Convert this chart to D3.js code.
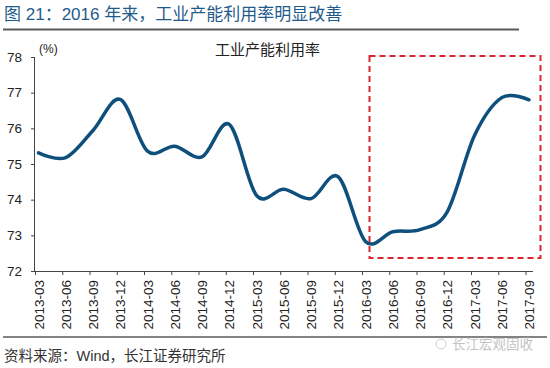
<!DOCTYPE html>
<html><head><meta charset="utf-8">
<script src="https://cdn.jsdelivr.net/npm/d3@7"></script>
<style>body{margin:0;background:#fff}svg{display:block}</style>
</head><body>
<svg id="c" width="550" height="368"></svg>
<script>
const categories = ["2013-03","2013-06","2013-09","2013-12","2014-03","2014-06","2014-09","2014-12","2015-03","2015-06","2015-09","2015-12","2016-03","2016-06","2016-09","2016-12","2017-03","2017-06","2017-09"];
const utilization = [75.31,75.18,75.94,76.81,75.36,75.5,75.2,76.11,74.12,74.29,74.03,74.64,72.83,73.1,73.16,73.66,75.8,76.86,76.8];
const yTicks = [72,73,74,75,76,77,78];
const titleText = "图 21：2016 年来，工业产能利用率明显改善";
const seriesName = "工业产能利用率";
const sourceText = "资料来源：Wind，长江证券研究所";
const highlightRange = ["2016-03","2017-09"];

const svg = d3.select("#c");
const cjk = "'Liberation Sans','Noto Sans CJK SC',Arial,sans-serif";
const lat = "'Liberation Sans',Arial,sans-serif";

const x = d3.scalePoint().domain(categories).range([38.5, 529]);
const y = d3.scaleLinear().domain([72, 78]).range([271, 57]);

// title
svg.append("text").attr("x", 4).attr("y", 20).attr("fill", "#1f5b8b")
  .style("font-family", cjk).style("font-size", "17px").text(titleText);
svg.append("line").attr("x1", 3).attr("x2", 519).attr("y1", 29.5).attr("y2", 29.5)
  .attr("stroke", "#5a5a5a").attr("stroke-width", 2);

// y axis
const yAxis = svg.append("g").attr("transform", "translate(35,0)")
  .call(d3.axisLeft(y).tickValues(yTicks).tickSize(4).tickPadding(9).tickFormat(d3.format("d")));
yAxis.select(".domain").attr("stroke", "#444").attr("d", `M-0.5,${y(78)}V${y(72)}`);
yAxis.selectAll(".tick line").attr("stroke", "#444");
yAxis.selectAll("text").style("font-family", lat).style("font-size", "13.5px").attr("fill", "#222");

// x axis
const xg = svg.append("g").attr("transform", `translate(0,${y(72)})`);
xg.append("line").attr("x1", 34.5).attr("x2", 533).attr("y1", 0.5).attr("y2", 0.5).attr("stroke", "#444");
xg.selectAll("line.tk").data(categories).enter().append("line").attr("class", "tk")
  .attr("x1", d => x(d) - 3).attr("x2", d => x(d) - 3).attr("y1", 0).attr("y2", 4).attr("stroke", "#444");
xg.selectAll("text").data(categories).enter().append("text")
  .attr("transform", d => `translate(${x(d) + 5},9) rotate(-90)`)
  .attr("text-anchor", "end")
  .style("font-family", lat).style("font-size", "13.5px").attr("fill", "#222")
  .text(d => d);

// labels
svg.append("text").attr("x", 39).attr("y", 53).style("font-family", lat)
  .style("font-size", "12px").attr("fill", "#222").text("(%)");
svg.append("text").attr("x", 267.5).attr("y", 55).attr("text-anchor", "middle")
  .style("font-family", cjk).style("font-size", "15px").attr("fill", "#222").text(seriesName);

// line
const line = d3.line().x((d, i) => x(categories[i])).y(d => y(d)).curve(d3.curveCardinal.tension(0));
svg.append("path").datum(utilization).attr("d", line).attr("fill", "none")
  .attr("stroke", "#0e4f7c").attr("stroke-width", 3.5).attr("stroke-linejoin", "round").attr("stroke-linecap", "round");

// highlight box
const bx0 = x(highlightRange[0]) + 4, bx1 = x(highlightRange[1]) + 11.5;
svg.append("rect").attr("x", bx0).attr("y", 56).attr("width", bx1 - bx0).attr("height", 202)
  .attr("fill", "none").attr("stroke", "#d9262f").attr("stroke-width", 2).attr("stroke-dasharray", "6,4");

// footer
svg.append("line").attr("x1", 3).attr("x2", 547).attr("y1", 337).attr("y2", 337)
  .attr("stroke", "#5a5a5a").attr("stroke-width", 1.5);
svg.append("text").attr("x", 4).attr("y", 361).style("font-family", cjk).style("font-size", "14.5px")
  .attr("fill", "#333").text(sourceText);
svg.append("text").attr("x", 452).attr("y", 349).style("font-family", cjk).style("font-size", "13.5px")
  .attr("fill", "#c4c4c4").text("长江宏观固收");
svg.append("circle").attr("cx", 441).attr("cy", 344).attr("r", 5).attr("fill", "none").attr("stroke", "#d0d0d0");
</script>
</body></html>
